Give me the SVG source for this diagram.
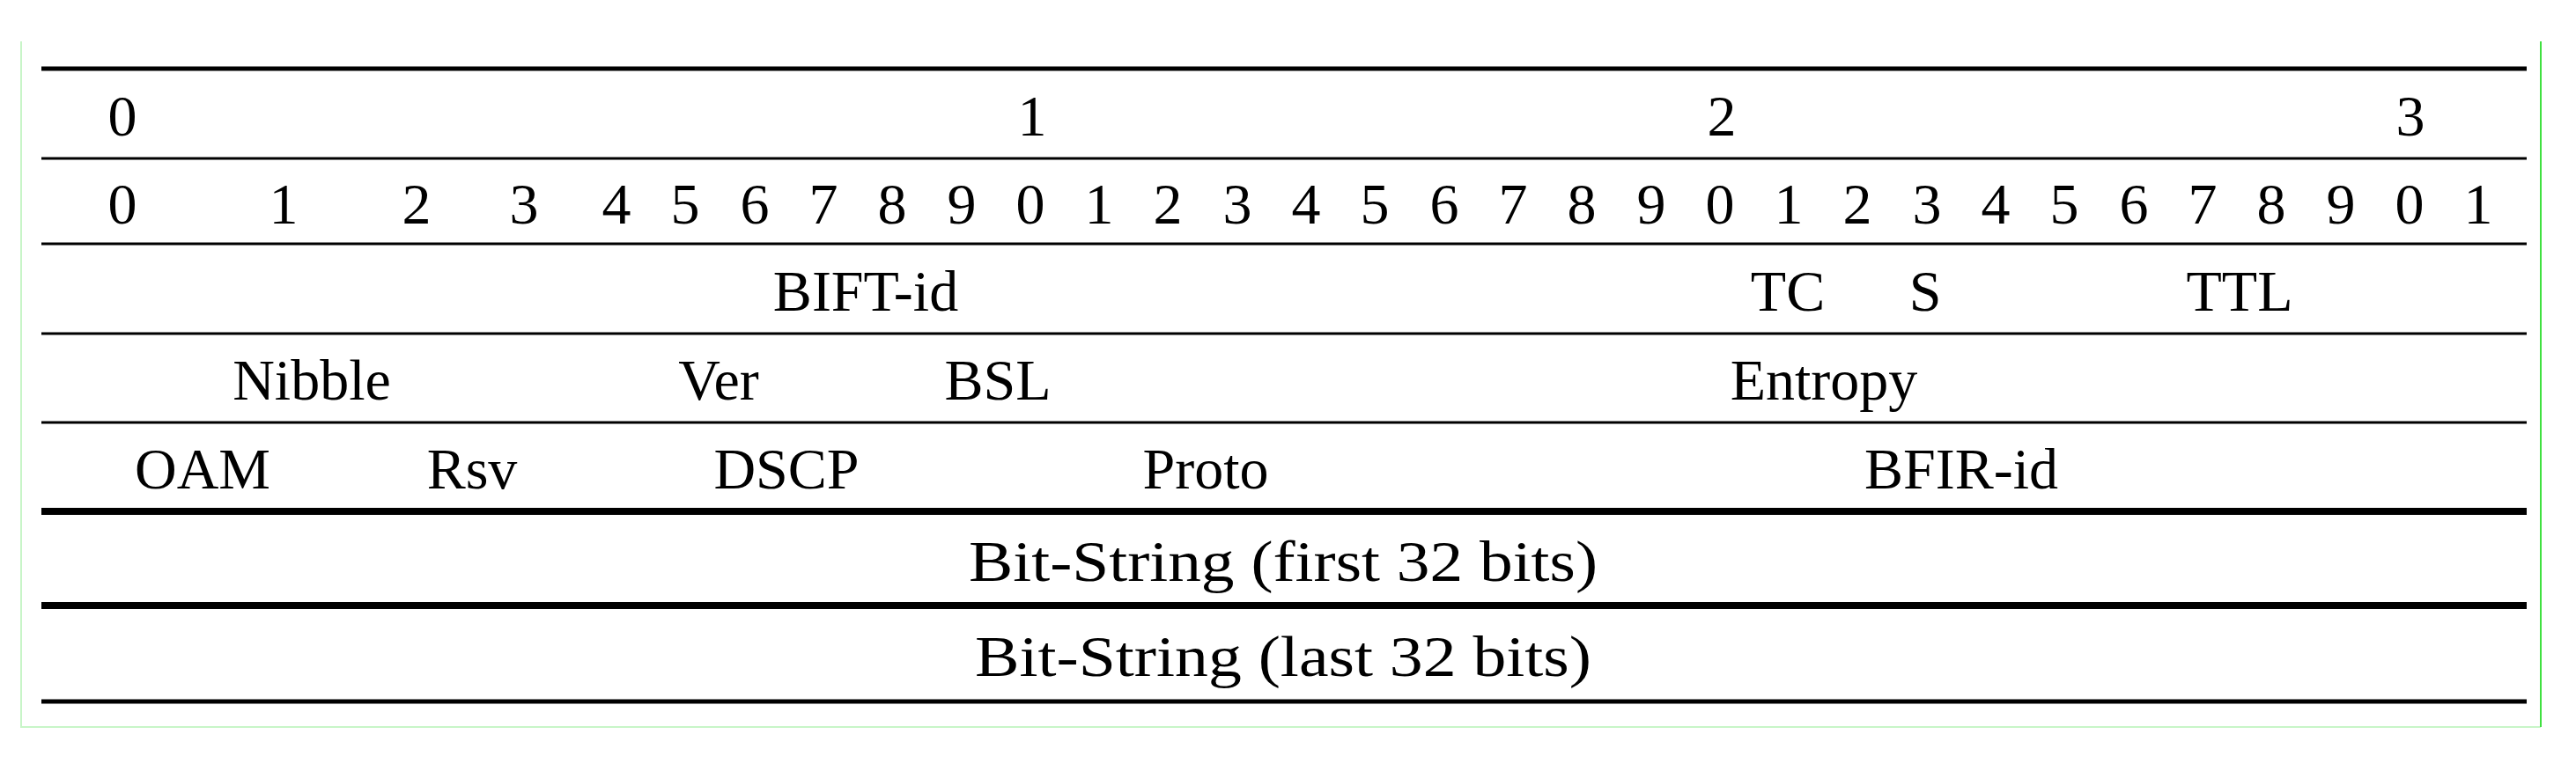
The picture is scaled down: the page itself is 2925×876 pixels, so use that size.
<svg xmlns="http://www.w3.org/2000/svg" width="2925" height="876" viewBox="0 0 2925 876">
<style>
text{font-family:"Liberation Serif","DejaVu Serif",serif;font-size:66px;fill:#000;text-anchor:middle}
.l{stroke:#000}
</style>
<rect width="2925" height="876" fill="#fff"/>
<g id="frame">
<path d="M24,47 V826 H2885" fill="none" stroke="#c8f5c8" stroke-width="2"/>
<path d="M2885,47 V826" stroke="#40e040" stroke-width="2"/>
</g>
<g id="connectors">
<line class="l" x1="47" y1="78" x2="2869" y2="78" stroke-width="5"/>
<line class="l" x1="47" y1="180" x2="2869" y2="180" stroke-width="3"/>
<line class="l" x1="47" y1="277" x2="2869" y2="277" stroke-width="3"/>
<line class="l" x1="47" y1="379" x2="2869" y2="379" stroke-width="3"/>
<line class="l" x1="47" y1="480" x2="2869" y2="480" stroke-width="3"/>
<line class="l" x1="47" y1="581" x2="2869" y2="581" stroke-width="8"/>
<line class="l" x1="47" y1="688" x2="2869" y2="688" stroke-width="8"/>
<line class="l" x1="47" y1="797" x2="2869" y2="797" stroke-width="5"/>
</g>
<g id="row-octets">
<text x="139" y="154">0</text><text x="1172" y="154">1</text><text x="1955" y="154">2</text><text x="2737" y="154">3</text>
</g>
<g id="row-bits">
<text x="139" y="254">0</text><text x="322" y="254">1</text><text x="473" y="254">2</text><text x="595" y="254">3</text>
<text x="700" y="254">4</text><text x="778" y="254">5</text><text x="857" y="254">6</text><text x="935" y="254">7</text>
<text x="1013" y="254">8</text><text x="1092" y="254">9</text><text x="1170" y="254">0</text><text x="1248" y="254">1</text>
<text x="1326" y="254">2</text><text x="1405" y="254">3</text><text x="1483" y="254">4</text><text x="1561" y="254">5</text>
<text x="1640" y="254">6</text><text x="1718" y="254">7</text><text x="1796" y="254">8</text><text x="1875" y="254">9</text>
<text x="1953" y="254">0</text><text x="2031" y="254">1</text><text x="2109" y="254">2</text><text x="2188" y="254">3</text>
<text x="2266" y="254">4</text><text x="2344" y="254">5</text><text x="2423" y="254">6</text><text x="2501" y="254">7</text>
<text x="2579" y="254">8</text><text x="2658" y="254">9</text><text x="2736" y="254">0</text><text x="2814" y="254">1</text>
</g>
<g id="row-label">
<text x="983" y="353">BIFT-id</text><text x="2030" y="353">TC</text><text x="2186" y="353">S</text><text x="2543" y="353">TTL</text>
</g>
<g id="row-nibble">
<text x="354" y="454">Nibble</text><text x="816" y="454">Ver</text><text x="1133" y="454">BSL</text><text x="2071" y="454">Entropy</text>
</g>
<g id="row-oam">
<text x="230" y="555">OAM</text><text x="536" y="555">Rsv</text><text x="893" y="555">DSCP</text><text x="1369" y="555">Proto</text><text x="2227" y="555">BFIR-id</text>
</g>
<g id="row-bitstring1"><text x="1457" y="660" textLength="714" lengthAdjust="spacingAndGlyphs">Bit-String (first 32 bits)</text></g>
<g id="row-bitstring2"><text x="1457" y="768" textLength="700" lengthAdjust="spacingAndGlyphs">Bit-String (last 32 bits)</text></g>
</svg>
